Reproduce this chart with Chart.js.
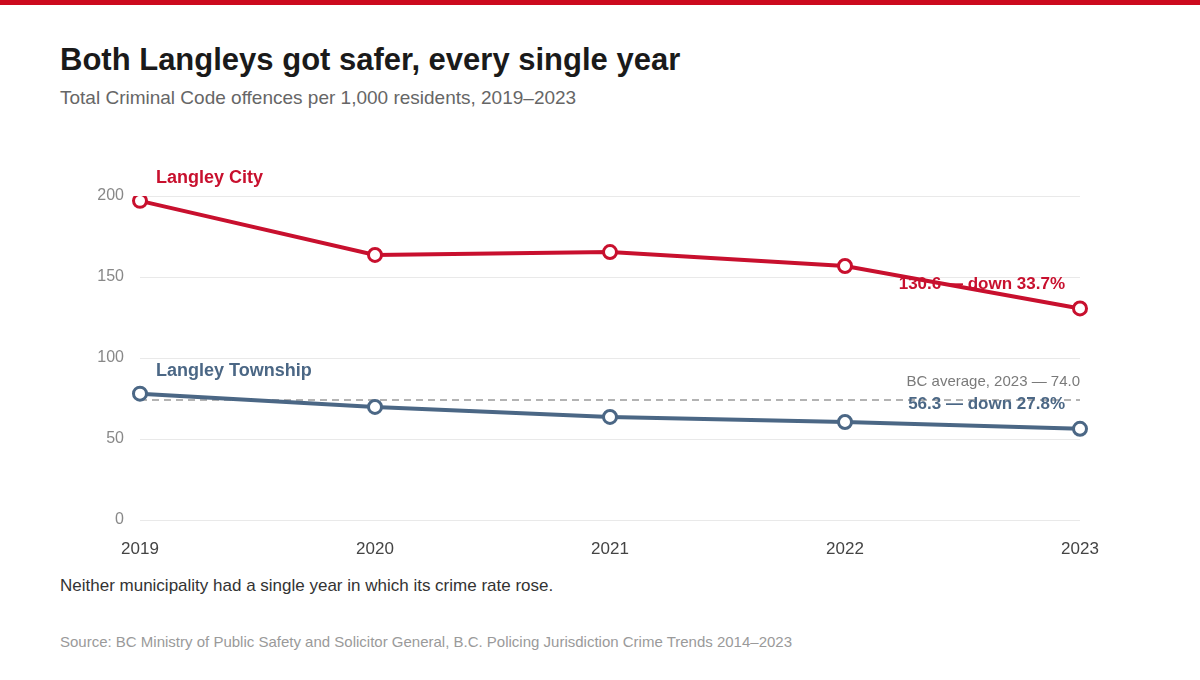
<!DOCTYPE html>
<html>
<head>
<meta charset="utf-8">
<script src="https://cdn.jsdelivr.net/npm/chart.js@4.4.1/dist/chart.umd.min.js"></script>
<style>
  html, body { margin: 0; padding: 0; background: #fff; }
  body { width: 1200px; height: 680px; position: relative; overflow: hidden; font-family: "Liberation Sans", Arial, sans-serif; }
  .topbar { position: absolute; left: 0; top: 0; width: 1200px; height: 5px; background: #cc0a1e; }
  h1 { position: absolute; left: 60px; top: 42px; margin: 0; font-size: 31px; font-weight: bold; color: #1a1a1a; }
  .sub { position: absolute; left: 60px; top: 87px; font-size: 19px; color: #666; }
  .note { position: absolute; left: 60px; top: 576px; font-size: 17px; color: #333; }
  .src { position: absolute; left: 60px; top: 633px; font-size: 15px; color: #9a9a9a; }
  .wrap { position: absolute; left: 0; top: 150px; width: 1200px; height: 420px; }
</style>
</head>
<body>
<div class="topbar"></div>
<h1>Both Langleys got safer, every single year</h1>
<div class="sub">Total Criminal Code offences per 1,000 residents, 2019–2023</div>
<div class="wrap"><canvas id="myChart" width="1200" height="420"></canvas></div>
<div class="note">Neither municipality had a single year in which its crime rate rose.</div>
<div class="src">Source: BC Ministry of Public Safety and Solicitor General, B.C. Policing Jurisdiction Crime Trends 2014–2023</div>
<script>
var years = ['2019', '2020', '2021', '2022', '2023']
var cityRates = [197.0, 163.6, 165.4, 156.8, 130.6]
var townshipRates = [78.0, 69.8, 63.6, 60.5, 56.3]
var bcAverage = 74.0
var yTicks = [0, 50, 100, 150, 200]
var seriesNames = ['Langley City', 'Langley Township']
var endLabels = ['130.6 — down 33.7%', '56.3 — down 27.8%']
var bcLabel = 'BC average, 2023 — 74.0'

var red = '#c8102e'
var blue = '#4b6785'
var font = '"Liberation Sans", Arial, sans-serif'

// text notes drawn on top of the lines
var notes = {
    id: 'notes',
    afterDatasetsDraw(chart) {
        var ctx = chart.ctx
        var x = chart.scales.x
        var y = chart.scales.y
        var last = years.length - 1
        ctx.save()
        ctx.textBaseline = 'middle'
        ctx.font = 'bold 18px ' + font
        ctx.textAlign = 'left'
        ctx.fillStyle = red
        ctx.fillText(seriesNames[0], x.getPixelForValue(0) + 16, y.getPixelForValue(cityRates[0]) - 23)
        ctx.fillStyle = blue
        ctx.fillText(seriesNames[1], x.getPixelForValue(0) + 16, y.getPixelForValue(townshipRates[0]) - 23)
        ctx.font = 'bold 17px ' + font
        ctx.textAlign = 'right'
        ctx.fillStyle = red
        ctx.fillText(endLabels[0], x.getPixelForValue(last) - 15, y.getPixelForValue(cityRates[last]) - 24)
        ctx.fillStyle = blue
        ctx.fillText(endLabels[1], x.getPixelForValue(last) - 15, y.getPixelForValue(townshipRates[last]) - 24)
        ctx.font = '15px ' + font
        ctx.fillStyle = '#7a7a7a'
        ctx.fillText(bcLabel, x.getPixelForValue(last), y.getPixelForValue(bcAverage) - 18)
        ctx.restore()
    }
}

var ctx = document.getElementById('myChart')
var myChart = new Chart(ctx, {
    type: 'line',
    data: {
        labels: years,
        datasets: [{
            label: 'BC average',
            data: years.map(() => bcAverage),
            borderColor: '#9a9a9a',
            borderWidth: 1.5,
            borderDash: [7, 5],
            pointRadius: 0,
            order: 3
        }, {
            label: seriesNames[1],
            data: townshipRates,
            borderColor: blue,
            borderWidth: 4,
            pointRadius: 6.5,
            pointBorderWidth: 3,
            pointBackgroundColor: '#fff',
            pointBorderColor: blue,
            order: 2
        }, {
            label: seriesNames[0],
            data: cityRates,
            borderColor: red,
            borderWidth: 4,
            pointRadius: 6.5,
            pointBorderWidth: 3,
            pointBackgroundColor: '#fff',
            pointBorderColor: red,
            order: 1
        }]
    },
    options: {
        responsive: false,
        animation: false,
        layout: { padding: { left: 0, right: 120, top: 46, bottom: 0 } },
        plugins: {
            legend: { display: false },
            tooltip: { enabled: false }
        },
        scales: {
            x: {
                offset: false,
                grid: { display: false },
                border: { display: false },
                ticks: { color: '#444', font: { size: 17, family: font }, padding: 11, maxRotation: 0 },
                afterFit: function (scale) { scale.height = 50 }
            },
            y: {
                min: 0,
                max: 200,
                afterBuildTicks: function (scale) { scale.ticks = yTicks.map(v => ({ value: v })) },
                grid: { color: '#e9e9e9', lineWidth: 1, drawTicks: false },
                border: { display: false },
                ticks: { color: '#888', font: { size: 16, family: font }, padding: 16 },
                afterFit: function (scale) { scale.width = 140 }
            }
        }
    },
    plugins: [notes]
})
</script>
</body>
</html>
